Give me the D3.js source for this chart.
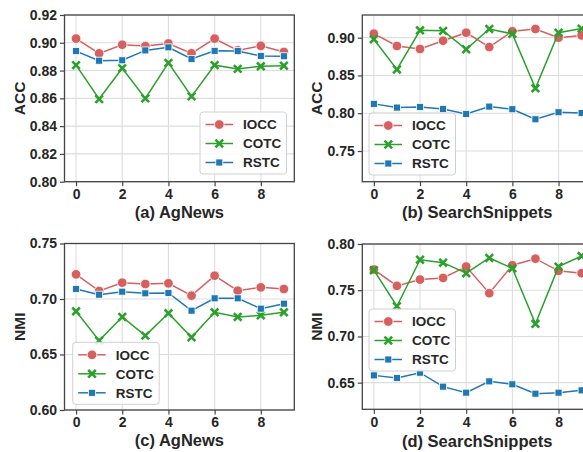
<!DOCTYPE html>
<html><head><meta charset="utf-8">
<script src="https://cdn.jsdelivr.net/npm/d3@7"></script>
<style>
body{margin:0;background:#fff}
svg{display:block;font-family:"Liberation Sans",Arial,sans-serif;font-weight:bold}
</style>
</head><body>
<svg id="chart" width="583" height="452"></svg>
<script>
// ---------- data ----------
const xValues = [0,1,2,3,4,5,6,7,8,9];
const xTicks = [0,2,4,6,8];
const seriesNames = ["IOCC","COTC","RSTC"];

const agAccIOCC = [0.903,0.8924,0.8986,0.8976,0.8995,0.8924,0.903,0.8945,0.8978,0.8934];
const agAccCOTC = [0.8839,0.8595,0.8817,0.860,0.8855,0.8614,0.8839,0.8812,0.8831,0.8835];
const agAccRSTC = [0.894,0.8871,0.8874,0.8945,0.8967,0.8883,0.8942,0.894,0.8905,0.8903];

const ssAccIOCC = [0.9053,0.889,0.885,0.896,0.9066,0.8876,0.9084,0.9115,0.900,0.903];
const ssAccCOTC = [0.898,0.858,0.9097,0.909,0.8846,0.9115,0.905,0.833,0.9066,0.912];
const ssAccRSTC = [0.8124,0.8075,0.8084,0.8057,0.7991,0.8088,0.8053,0.792,0.8013,0.8004];

const agNmiIOCC = [0.7222,0.7072,0.7147,0.7135,0.7141,0.703,0.721,0.7075,0.7105,0.709];
const agNmiCOTC = [0.6889,0.6625,0.6838,0.667,0.6871,0.6655,0.688,0.6838,0.6853,0.688];
const agNmiRSTC = [0.709,0.7039,0.7066,0.7051,0.7054,0.6895,0.7006,0.7006,0.6913,0.6958];

const ssNmiIOCC = [0.7724,0.7547,0.7615,0.7633,0.7756,0.7468,0.777,0.7841,0.771,0.7684];
const ssNmiCOTC = [0.7717,0.7327,0.783,0.7798,0.7684,0.7849,0.7737,0.7137,0.7755,0.787];
const ssNmiRSTC = [0.6579,0.655,0.6608,0.6457,0.6392,0.6514,0.6482,0.6381,0.6392,0.6417];

const accTicksAg = [0.80,0.82,0.84,0.86,0.88,0.90,0.92];
const accTicksSs = [0.75,0.80,0.85,0.90];
const nmiTicksAg = [0.60,0.65,0.70,0.75];
const nmiTicksSs = [0.65,0.70,0.75,0.80];

// ---------- styles ----------
const colors = {IOCC:"#d65f5f", COTC:"#2ca02c", RSTC:"#1f77b4"};
const textColor = "#262626";
const spineColor = "#444";
const gridColor = "#dddddd";

const panels = [
  {title:"(a) AgNews", ylabel:"ACC", data:[agAccIOCC,agAccCOTC,agAccRSTC], yDomain:[0.80,0.92], yTicks:accTicksAg,
   box:{l:64.5,r:294.3,t:15,b:181.7}, xDomain:[-0.5,9.45], legend:{x:200,y:112}, titleY:218, ylabelX:25},
  {title:"(b) SearchSnippets", ylabel:"ACC", data:[ssAccIOCC,ssAccCOTC,ssAccRSTC], yDomain:[0.7094,0.930], yTicks:accTicksSs,
   box:{l:362.3,r:592,t:15,b:181.7}, xDomain:[-0.5,9.45], legend:{x:369,y:113}, titleY:218, ylabelX:321.5},
  {title:"(c) AgNews", ylabel:"NMI", data:[agNmiIOCC,agNmiCOTC,agNmiRSTC], yDomain:[0.60,0.75], yTicks:nmiTicksAg,
   box:{l:64.5,r:294.3,t:243.5,b:410}, xDomain:[-0.5,9.45], legend:{x:72.7,y:342.3}, titleY:446, ylabelX:24.5},
  {title:"(d) SearchSnippets", ylabel:"NMI", data:[ssNmiIOCC,ssNmiCOTC,ssNmiRSTC], yDomain:[0.6212,0.80], yTicks:nmiTicksSs,
   box:{l:362.3,r:592,t:244,b:409.3}, xDomain:[-0.5,9.45], legend:{x:369,y:309}, titleY:447, ylabelX:321.5}
];

const svg = d3.select("#chart");

function drawMarker(g, name, cx, cy, legendMode){
  const c = colors[name];
  if(name==="IOCC"){
    g.append("circle").attr("cx",cx).attr("cy",cy).attr("r",4.8)
      .attr("fill",c).attr("stroke","#fff").attr("stroke-width",0.8);
  } else if(name==="RSTC"){
    const s=7;
    g.append("rect").attr("x",cx-s/2).attr("y",cy-s/2).attr("width",s).attr("height",s)
      .attr("fill",c).attr("stroke","#fff").attr("stroke-width",0.8);
  } else {
    const h=3.8;
    const p = `M${cx-h},${cy-h}L${cx+h},${cy+h}M${cx-h},${cy+h}L${cx+h},${cy-h}`;
    g.append("path").attr("d",p).attr("stroke",c).attr("stroke-width",2.6).attr("fill","none");
  }
}

panels.forEach(p=>{
  const g = svg.append("g");
  const x = d3.scaleLinear().domain(p.xDomain).range([p.box.l,p.box.r]);
  const y = d3.scaleLinear().domain(p.yDomain).range([p.box.b,p.box.t]);

  // grid
  g.append("g").selectAll("line").data(xTicks).join("line")
    .attr("x1",d=>x(d)).attr("x2",d=>x(d)).attr("y1",p.box.t).attr("y2",p.box.b)
    .attr("stroke",gridColor).attr("stroke-width",1.1);
  g.append("g").selectAll("line").data(p.yTicks).join("line")
    .attr("x1",p.box.l).attr("x2",p.box.r).attr("y1",d=>y(d)).attr("y2",d=>y(d))
    .attr("stroke",gridColor).attr("stroke-width",1.1);

  // axes via d3
  const xAxis = d3.axisBottom(x).tickValues(xTicks).tickFormat(d3.format("d")).tickSize(4.5).tickPadding(3);
  const yAxis = d3.axisLeft(y).tickValues(p.yTicks).tickFormat(d3.format(".2f")).tickSize(4.5).tickPadding(3);
  const gx = g.append("g").attr("transform",`translate(0,${p.box.b})`).call(xAxis);
  const gy = g.append("g").attr("transform",`translate(${p.box.l},0)`).call(yAxis);
  [gx,gy].forEach(a=>{
    a.select(".domain").remove();
    a.selectAll(".tick line").attr("stroke",spineColor).attr("stroke-width",1.2);
    a.selectAll(".tick text").attr("fill",textColor).style("font-size","14px").style("font-weight","bold")
      .style("font-family",'"Liberation Sans",Arial,sans-serif');
  });

  // series
  seriesNames.forEach((name,i)=>{
    const vals = p.data[i];
    const sg = g.append("g");
    const line = d3.line().x((d,j)=>x(xValues[j])).y(d=>y(d));
    sg.append("path").datum(vals).attr("d",line).attr("fill","none")
      .attr("stroke",colors[name]).attr("stroke-width",1.5);
    vals.forEach((v,j)=>drawMarker(sg,name,x(xValues[j]),y(v)));
  });

  // spines
  g.append("rect").attr("x",p.box.l).attr("y",p.box.t)
    .attr("width",p.box.r-p.box.l).attr("height",p.box.b-p.box.t)
    .attr("fill","none").attr("stroke",spineColor).attr("stroke-width",1.3);

  // labels
  g.append("text").attr("x",(p.box.l+p.box.r)/2).attr("y",p.titleY).attr("text-anchor","middle")
    .attr("fill",textColor).style("font-size","16.5px").text(p.title);
  g.append("text").attr("transform",`translate(${p.ylabelX},${(p.box.t+p.box.b)/2}) rotate(-90)`)
    .attr("text-anchor","middle").attr("fill",textColor).style("font-size","15.5px").text(p.ylabel);

  // legend
  const lg = g.append("g").attr("transform",`translate(${p.legend.x},${p.legend.y})`);
  lg.append("rect").attr("x",0).attr("y",0).attr("width",86.5).attr("height",62).attr("rx",3)
    .attr("fill","#fff").attr("fill-opacity",0.85).attr("stroke","#d0d0d0").attr("stroke-width",1);
  seriesNames.forEach((name,i)=>{
    const ly = 12.5 + i*19;
    lg.append("line").attr("x1",5.5).attr("x2",33).attr("y1",ly).attr("y2",ly)
      .attr("stroke",colors[name]).attr("stroke-width",1.5);
    drawMarker(lg,name,19.3,ly);
    lg.append("text").attr("x",43).attr("y",ly+4.8).attr("fill",textColor)
      .style("font-size","13.5px").text(name);
  });
});
</script>
</body></html>
